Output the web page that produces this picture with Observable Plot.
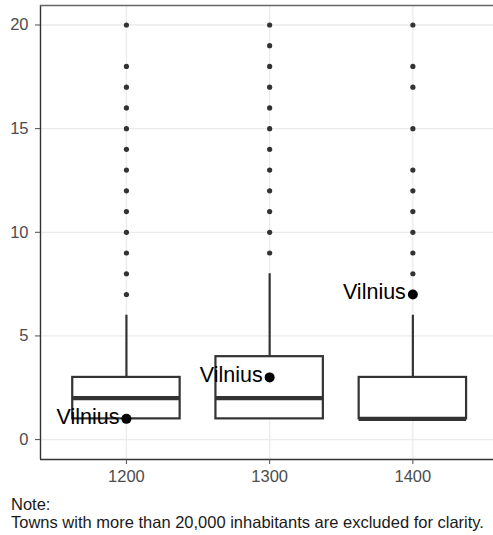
<!DOCTYPE html>
<html><head><meta charset="utf-8">
<script src="https://cdn.jsdelivr.net/npm/d3@7"></script>
<script src="https://cdn.jsdelivr.net/npm/@observablehq/plot@0.6"></script>
<style>
body{margin:0;background:#fff;font-family:"Liberation Sans",Arial,Helvetica,sans-serif;overflow:hidden;}
#chart svg{max-width:none !important;display:block;}
#note{font-size:16.5px;line-height:18px;color:#1a1a1a;padding-left:11px;margin-top:5px;white-space:nowrap;}
</style></head><body>
<div id="chart"></div><div id="note"></div>
<script>
// ---- data ----
const centuries = [1200, 1300, 1400];
const lowerWhisker = [1, 1, 1];
const q1 = [1, 1, 1];
const medians = [2, 2, 1];
const q3 = [3, 4, 3];
const upperWhisker = [6, 8, 6];
const outliers1200 = [7, 8, 9, 10, 11, 12, 13, 14, 15, 16, 17, 18, 20];
const outliers1300 = [9, 10, 11, 12, 13, 14, 15, 16, 17, 18, 19, 20];
const outliers1400 = [7, 8, 9, 10, 11, 12, 13, 15, 17, 18, 20];
const vilniusValues = [1, 3, 7];
const vilniusLabel = "Vilnius";
const yTicks = [0, 5, 10, 15, 20];
const xTicks = [1200, 1300, 1400];
const noteLines = ["Note:", "Towns with more than 20,000 inhabitants are excluded for clarity."];

// ---- tables ----
const boxes = centuries.map((c, i) => ({century: c, lower: lowerWhisker[i], q1: q1[i], median: medians[i], q3: q3[i], upper: upperWhisker[i]}));
const outlierSets = [outliers1200, outliers1300, outliers1400];
const outliers = centuries.flatMap((c, i) => outlierSets[i].map(v => ({century: c, value: v})));
const vilnius = centuries.map((c, i) => ({century: c, value: vilniusValues[i], label: vilniusLabel}));
const halfWidth = 37.5;
const xDomain = [1140, 1456.3];
const yDomain = [-0.96, 20.94];

const ink = "#333333";
const chart = Plot.plot({
  width: 493,
  height: 490,
  marginLeft: 40,
  marginRight: 0,
  marginTop: 5,
  marginBottom: 31,
  style: {fontFamily: '"Liberation Sans", Arial, Helvetica, sans-serif', fontSize: "16.5px", background: "white", maxWidth: "none"},
  x: {type: "linear", domain: xDomain},
  y: {domain: yDomain},
  marks: [
    Plot.gridY(yTicks, {stroke: "#ebebeb", strokeOpacity: 1, strokeWidth: 1.3}),
    Plot.gridX(xTicks, {stroke: "#ebebeb", strokeOpacity: 1, strokeWidth: 1.3}),
    Plot.ruleX(boxes, {x: "century", y1: "q3", y2: "upper", stroke: ink, strokeWidth: 2.2}),
    Plot.ruleX(boxes, {x: "century", y1: "lower", y2: "q1", stroke: ink, strokeWidth: 2.2}),
    Plot.rect(boxes, {x1: d => d.century - halfWidth, x2: d => d.century + halfWidth, y1: "q1", y2: "q3", fill: "white", stroke: ink, strokeWidth: 2.2}),
    Plot.ruleY(boxes, {y: "median", x1: d => d.century - halfWidth, x2: d => d.century + halfWidth, stroke: ink, strokeWidth: 4.2}),
    Plot.dot(outliers, {x: "century", y: "value", r: 2.6, fill: ink, stroke: null}),
    Plot.dot(vilnius, {x: "century", y: "value", r: 5, fill: "black", stroke: null}),
    Plot.text(vilnius, {x: "century", y: "value", text: "label", textAnchor: "end", dx: -7, dy: -2, fontSize: 21.5, fill: "black"}),
    Plot.ruleX([xDomain[0]], {stroke: ink, strokeWidth: 1.4}),
    Plot.ruleY([yDomain[0]], {stroke: ink, strokeWidth: 1.4}),
    Plot.ruleY([yDomain[1]], {stroke: "#666", strokeWidth: 1.4}),
    Plot.axisY({ticks: yTicks, tickSize: 5, tickPadding: 7, label: null, color: "#4d4d4d", fontSize: 16.5}),
    Plot.axisX({ticks: xTicks, tickSize: 5, tickPadding: 6, label: null, tickFormat: d => String(d), color: "#4d4d4d", fontSize: 16.5})
  ]
});
document.getElementById("chart").appendChild(chart);
document.getElementById("note").innerHTML = noteLines.join("<br>");
</script>
</body></html>
